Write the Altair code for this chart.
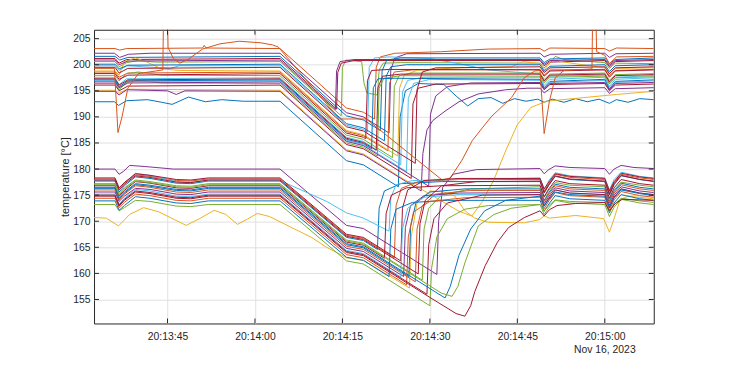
import altair as alt
import pandas as pd

BLUE = "#0072BD"; ORANGE = "#D95319"; YELLOW = "#EDB120"; PURPLE = "#7E2F8E"
GREEN = "#77AC30"; LBLUE = "#4DBEEE"; RED = "#A2142F"

# time in seconds after 20:13:00, temperature in degC
u01 = [(32.4,203.1),(36.0,203.1),(36.8,202.8),(38.0,203.1),(51.0,203.2),(51.3,203.7),(51.6,203.2),(64.3,203.1),(75.7,191.7),(78.6,190.9),(80.5,189.6),(80.8,199.5),(81.5,201.5),(84.0,202.2),(92.0,202.5),(100.0,203.0),(108.9,203.1),(109.6,202.6),(110.6,203.2),(120.0,203.1),(120.8,202.6),(122.0,203.2),(128.4,203.1)]
u02 = [(32.4,202.2),(35.9,202.2),(36.8,201.4),(38.3,202.0),(42.0,202.2),(64.3,202.2),(75.7,190.8),(78.6,190.0),(83.0,186.9),(83.3,199.0),(84.0,201.3),(86.0,202.1),(108.9,202.2),(109.6,201.5),(110.7,202.0),(120.0,202.2),(120.8,201.4),(121.9,202.1),(128.4,202.2)]
u03 = [(32.4,201.6),(36.0,201.6),(36.8,200.9),(38.2,201.4),(64.3,201.6),(75.7,190.2),(78.6,189.4),(81.5,187.4),(81.8,198.8),(82.6,200.9),(85.0,201.3),(108.9,201.3),(109.6,200.4),(110.6,201.1),(120.0,201.3),(120.8,200.2),(121.8,201.0),(128.4,201.3)]
u04 = [(32.4,201.2),(36.0,201.2),(36.7,200.3),(38.0,201.0),(64.3,201.2),(74.0,191.5),(74.2,198.5),(74.8,200.3),(77.0,200.8),(108.9,200.8),(109.6,199.8),(110.5,200.5),(120.0,200.8),(120.8,199.6),(121.8,200.6),(128.4,200.8)]
u05 = [(32.4,200.6),(36.0,200.6),(36.7,199.6),(38.0,200.4),(40.0,200.8),(43.0,200.5),(64.3,200.6),(74.8,190.2),(75.0,199.5),(75.6,200.9),(78.3,200.6),(78.7,196.5),(79.2,194.6),(81.0,194.2),(81.3,199.0),(82.0,200.3),(85.0,200.4),(108.9,200.3),(109.6,199.4),(110.5,200.2),(111.5,201.6),(113.0,201.0),(120.0,200.4),(120.8,199.3),(121.8,200.3),(128.4,200.2)]
u06 = [(32.4,200.1),(36.0,200.1),(36.7,199.2),(38.2,199.9),(64.3,200.1),(75.7,188.7),(78.6,187.9),(82.2,185.4),(82.5,197.8),(83.3,199.6),(86.0,200.0),(108.9,200.0),(109.6,198.8),(110.6,199.7),(120.0,200.0),(120.8,198.7),(121.8,199.8),(128.4,200.0)]
u07 = [(32.4,199.8),(36.0,199.8),(36.7,198.9),(38.0,199.8),(45.5,199.3),(47.0,199.8),(64.3,199.8),(75.7,188.4),(78.6,187.6),(79.3,187.1),(79.6,199.5),(80.5,201.3),(83.0,201.5),(90.0,201.2),(95.0,200.2),(100.0,199.0),(108.9,198.2),(109.6,196.8),(110.6,197.8),(120.0,198.0),(120.8,196.5),(121.8,197.6),(128.4,197.9)]
u08 = [(32.4,199.3),(35.9,199.3),(36.5,187.0),(37.2,190.0),(38.2,195.5),(40.0,198.3),(44.2,199.0),(44.3,208.0),(45.0,208.0),(45.1,203.3),(46.0,201.2),(47.1,200.3),(48.5,201.0),(51.0,203.0),(54.0,204.0),(57.3,204.5),(61.0,204.2),(63.0,203.8),(64.0,203.4),(74.5,189.6),(79.1,189.6),(92.1,177.9),(93.5,178.3),(95.5,181.7),(97.3,185.5),(100.5,190.0),(104.0,193.7),(106.2,197.5),(108.0,198.8),(108.9,198.9),(109.6,186.8),(110.5,193.0),(111.5,197.5),(113.0,198.9),(117.8,199.2),(117.9,208.0),(118.5,208.0),(118.6,202.5),(120.0,201.8),(120.8,200.2),(122.0,201.5),(128.4,201.6)]
u09 = [(32.4,198.8),(36.0,198.8),(36.7,198.0),(37.6,200.6),(39.5,201.3),(41.5,200.5),(44.0,199.2),(47.0,198.9),(64.3,198.8),(75.7,187.4),(78.6,186.6),(84.5,182.5),(84.8,195.5),(85.6,198.0),(88.0,199.0),(95.0,199.4),(104.0,199.6),(106.0,200.6),(108.9,200.2),(109.6,199.0),(111.0,201.0),(113.0,200.5),(120.0,199.4),(120.8,198.2),(121.8,199.3),(128.4,199.4)]
u10 = [(32.4,198.3),(36.0,198.3),(36.7,197.2),(38.2,198.0),(64.3,198.3),(75.7,186.9),(78.6,186.1),(79.0,185.8),(79.3,197.0),(80.0,198.9),(83.0,199.1),(108.9,199.0),(109.6,197.8),(110.6,198.8),(120.0,199.0),(120.8,197.6),(121.8,198.8),(128.4,199.0)]
u11 = [(32.4,197.9),(36.0,197.9),(36.7,196.9),(38.0,198.3),(40.0,198.6),(44.0,198.0),(64.3,197.9),(75.7,186.5),(78.6,185.7),(83.6,182.2),(83.9,195.8),(84.7,197.9),(87.0,198.4),(108.9,198.4),(109.6,197.2),(110.6,198.2),(120.0,198.4),(120.8,197.0),(121.8,198.1),(128.4,198.3)]
u12 = [(32.4,197.5),(36.0,197.5),(36.7,196.2),(38.0,197.3),(64.3,197.5),(75.7,186.1),(78.6,185.3),(85.0,180.8),(85.3,194.8),(86.2,197.0),(89.0,197.6),(108.9,197.6),(109.6,196.0),(110.6,197.2),(120.0,197.6),(120.8,195.8),(121.8,197.2),(128.4,197.5)]
u13 = [(32.4,197.1),(36.0,197.1),(36.7,195.8),(38.2,196.9),(64.3,197.1),(75.7,185.7),(78.6,184.9),(80.0,183.9),(80.3,195.6),(81.1,197.3),(84.0,197.4),(108.9,197.2),(109.6,195.6),(110.6,196.8),(120.0,197.2),(120.8,195.4),(121.8,196.8),(128.4,197.1)]
u14 = [(32.4,196.1),(36.0,196.1),(36.7,195.0),(38.2,195.9),(64.3,196.1),(75.7,184.7),(78.6,183.9),(86.8,178.2),(87.1,192.5),(88.0,195.5),(91.0,196.3),(108.9,196.4),(109.6,195.2),(110.6,196.2),(120.0,196.4),(120.8,195.0),(121.8,196.1),(128.4,196.3)]
u15 = [(32.4,194.9),(36.0,194.9),(36.7,194.2),(38.0,195.2),(45.0,195.0),(46.5,194.3),(48.0,195.0),(64.3,194.9),(75.7,183.5),(78.6,182.7),(88.5,175.8),(88.8,183.0),(89.5,187.5),(90.5,189.3),(92.6,191.1),(95.0,192.9),(98.3,194.4),(103.0,195.2),(106.8,195.5),(108.9,195.5),(109.6,194.6),(110.6,195.4),(120.0,195.6),(120.8,194.5),(121.8,195.4),(128.4,195.6)]
u16 = [(32.4,192.9),(35.9,192.9),(36.6,192.2),(38.0,193.1),(41.6,193.3),(44.0,192.8),(45.8,192.4),(48.6,193.8),(51.5,192.9),(54.3,193.3),(58.0,193.0),(64.3,193.0),(75.7,181.6),(78.6,180.8),(84.6,176.6),(84.9,190.0),(85.8,195.0),(88.0,196.4),(92.4,196.2),(94.5,194.0),(96.5,192.1),(98.3,193.5),(100.5,193.7),(102.5,192.6),(104.5,193.5),(106.5,193.0),(108.5,193.4),(109.6,192.8),(111.0,193.4),(113.0,192.8),(115.0,193.5),(117.0,192.9),(119.0,193.4),(120.8,192.6),(122.0,193.3),(124.0,192.8),(126.0,193.5),(128.4,193.3)]
u17 = [(32.4,195.1),(36.0,195.1),(36.7,194.5),(38.0,195.3),(64.3,195.1),(75.7,183.7),(78.6,182.9),(85.0,178.4),(90.0,175.2),(95.0,171.9),(97.2,171.0),(98.9,173.6),(101.0,178.0),(103.0,183.5),(105.0,188.5),(107.3,191.8),(110.0,193.0),(116.4,193.7),(122.0,194.3),(128.4,194.9)]
u18 = [(32.4,199.5),(36.0,199.5),(36.7,198.4),(38.2,199.3),(64.3,199.5),(75.7,188.1),(78.6,187.3),(87.5,181.1),(87.8,195.2),(88.7,198.6),(91.0,199.4),(108.9,199.6),(109.6,198.5),(110.6,199.4),(120.0,199.6),(120.8,198.3),(121.8,199.4),(128.4,199.6)]
u19 = [(32.4,196.7),(36.0,196.7),(36.7,195.6),(38.2,196.5),(64.3,196.7),(75.7,185.3),(78.6,184.5),(89.8,176.7),(90.1,190.5),(91.0,194.0),(93.0,195.8),(97.0,196.5),(108.9,196.6),(109.6,195.3),(110.6,196.4),(120.0,196.6),(120.8,195.2),(121.8,196.4),(128.4,196.6)]
u20 = [(32.4,196.4),(36.0,196.4),(36.7,195.2),(38.0,196.6),(40.0,197.0),(44.0,196.5),(64.3,196.4),(75.7,185.0),(78.6,184.2),(81.0,182.5),(81.3,195.5),(82.1,197.4),(85.0,197.9),(108.9,197.8),(109.6,196.5),(110.6,197.6),(120.0,197.8),(120.8,196.3),(121.8,197.5),(128.4,197.7)]
u21 = [(32.4,198.6),(36.0,198.6),(36.7,197.6),(38.2,198.4),(64.3,198.6),(75.7,187.2),(78.6,186.4),(82.8,183.5),(83.1,196.5),(83.9,198.6),(87.0,199.0),(108.9,199.1),(109.6,198.0),(110.6,199.0),(120.0,199.1),(120.8,197.9),(121.8,198.9),(128.4,199.1)]
u22 = [(32.4,196.9),(36.0,196.9),(36.7,195.5),(38.0,196.8),(64.3,196.9),(75.7,185.5),(78.6,184.7),(86.0,179.5),(86.3,193.5),(87.2,196.4),(90.0,197.2),(108.9,197.0),(109.6,195.4),(110.6,196.6),(120.0,197.0),(120.8,195.2),(121.8,196.6),(128.4,196.9)]
u23 = [(32.4,197.3),(36.0,197.3),(36.7,196.1),(38.2,197.1),(64.3,197.3),(75.7,185.9),(78.6,185.1),(80.8,183.6),(81.1,195.6),(81.9,197.8),(85.0,198.2),(108.9,198.2),(109.6,196.9),(110.6,198.0),(120.0,198.2),(120.8,196.7),(121.8,197.9),(128.4,198.1)]
u24 = [(32.4,200.9),(36.0,200.9),(36.7,200.0),(38.2,200.7),(64.3,200.9),(73.8,191.4),(74.0,198.8),(74.6,200.6),(77.0,201.0),(108.9,201.0),(109.6,200.1),(110.6,200.8),(120.0,201.0),(120.8,199.9),(121.8,200.8),(128.4,201.0)]

d01 = [(32.4,180.0),(36.0,180.0),(36.7,179.0),(37.5,179.6),(38.5,180.7),(41.0,180.5),(46.0,180.0),(64.3,180.0),(75.7,169.2),(78.6,168.6),(91.2,159.8),(91.5,170.0),(92.2,176.5),(94.0,179.0),(98.0,179.9),(108.9,180.1),(109.6,179.1),(110.4,179.9),(111.5,180.6),(114.0,180.3),(120.0,180.1),(120.8,179.0),(121.6,180.0),(122.8,180.7),(125.0,180.3),(128.4,180.1)]
d02 = [(32.4,178.3),(36.0,178.3),(36.7,176.4),(37.6,177.4),(39.5,179.1),(42.0,178.8),(46.5,178.0),(49.0,177.9),(52.0,178.3),(64.3,178.3),(75.7,167.5),(78.6,166.9),(85.0,162.4),(85.3,172.5),(86.2,176.0),(89.0,177.8),(95.0,178.2),(108.9,178.2),(109.6,176.2),(110.4,177.5),(111.5,179.1),(114.0,178.6),(120.0,178.2),(120.8,175.8),(121.6,177.6),(122.8,179.2),(126.0,178.5),(128.4,178.2)]
d03 = [(32.4,178.1),(36.0,178.1),(36.7,176.3),(37.6,177.4),(39.5,178.9),(42.0,178.6),(46.5,177.8),(49.0,177.7),(52.0,178.1),(64.3,178.1),(75.7,167.3),(78.6,166.7),(83.9,163.0),(84.2,173.0),(85.1,176.3),(88.0,177.6),(95.0,178.0),(108.9,178.0),(109.6,175.8),(110.4,177.2),(111.5,179.0),(114.0,178.4),(120.0,178.0),(120.8,175.5),(121.6,177.4),(122.8,179.0),(126.0,178.3),(128.4,178.0)]
d04 = [(32.4,177.8),(36.0,177.8),(36.7,176.0),(37.6,177.2),(39.5,179.2),(42.0,178.8),(46.5,177.6),(49.0,177.5),(52.0,177.8),(64.3,177.8),(72.3,173.8),(75.7,171.6),(78.6,170.6),(83.0,168.1),(83.3,174.5),(84.2,177.0),(87.0,177.8),(95.0,178.0),(108.9,178.3),(109.6,176.0),(110.4,177.8),(111.5,179.3),(114.0,178.7),(120.0,178.3),(120.8,176.0),(121.6,178.0),(122.8,179.4),(126.0,178.6),(128.4,178.3)]
d05 = [(32.4,177.7),(36.0,177.7),(36.7,175.6),(37.6,176.8),(39.5,178.5),(42.0,178.2),(46.5,177.3),(49.0,177.2),(52.0,177.7),(64.3,177.7),(75.7,166.9),(78.6,166.3),(81.0,164.6),(81.3,172.5),(82.2,175.8),(85.0,177.2),(92.0,177.6),(108.9,177.6),(109.6,175.4),(110.4,176.9),(111.5,178.6),(114.0,178.0),(120.0,177.6),(120.8,175.0),(121.6,177.0),(122.8,178.7),(126.0,178.0),(128.4,177.6)]
d06 = [(32.4,177.2),(36.0,177.2),(36.7,175.3),(37.6,176.4),(39.5,177.9),(42.0,177.6),(46.5,176.8),(49.0,176.7),(52.0,177.2),(64.3,177.2),(75.7,166.4),(78.6,165.8),(88.7,158.7),(89.0,168.5),(89.8,172.5),(92.0,175.0),(97.0,176.2),(108.9,176.6),(109.6,174.6),(110.4,175.9),(111.5,177.4),(114.0,176.9),(120.0,176.6),(120.8,174.2),(121.6,176.0),(122.8,177.5),(126.0,176.9),(128.4,176.6)]
d07 = [(32.4,176.8),(36.0,176.8),(36.7,174.8),(37.6,175.9),(39.5,177.6),(42.0,177.3),(46.5,176.4),(49.0,176.3),(52.0,176.8),(64.3,176.8),(75.7,166.0),(78.6,165.4),(82.2,162.9),(82.5,171.5),(83.4,175.0),(86.0,176.4),(92.0,176.8),(108.9,176.9),(109.6,174.7),(110.4,176.2),(111.5,177.8),(114.0,177.2),(120.0,176.9),(120.8,174.4),(121.6,176.4),(122.8,178.0),(126.0,177.2),(128.4,176.9)]
d08 = [(32.4,176.3),(36.0,176.3),(36.7,174.2),(37.6,175.4),(39.5,177.0),(42.0,176.7),(46.5,175.9),(49.0,175.8),(52.0,176.3),(64.3,176.3),(75.7,165.5),(78.6,164.9),(86.4,159.4),(86.7,169.0),(87.6,173.5),(90.0,175.6),(96.0,176.2),(108.9,176.2),(109.6,174.0),(110.4,175.5),(111.5,177.1),(114.0,176.5),(120.0,176.2),(120.8,173.8),(121.6,175.7),(122.8,177.3),(126.0,176.5),(128.4,176.2)]
d09 = [(32.4,176.0),(36.0,176.0),(36.7,174.1),(37.6,175.2),(39.5,176.8),(42.0,176.5),(46.5,175.6),(49.0,175.5),(52.0,176.0),(64.3,176.0),(75.7,165.2),(78.6,164.6),(87.5,158.4),(87.8,168.5),(88.7,173.0),(91.0,175.2),(97.0,175.9),(108.9,175.9),(109.6,173.8),(110.4,175.2),(111.5,176.8),(114.0,176.2),(120.0,175.9),(120.8,173.5),(121.6,175.4),(122.8,177.0),(126.0,176.2),(128.4,175.9)]
d10 = [(32.4,175.6),(36.0,175.6),(36.7,173.8),(37.6,174.8),(39.5,176.3),(42.0,176.1),(46.5,175.2),(49.0,175.1),(52.0,175.6),(64.3,175.6),(75.7,164.8),(78.6,164.2),(85.5,159.4),(85.8,168.8),(86.7,173.0),(89.0,174.9),(95.0,175.4),(108.9,175.5),(109.6,173.4),(110.4,174.8),(111.5,176.4),(114.0,175.8),(120.0,175.5),(120.8,173.1),(121.6,175.0),(122.8,176.6),(126.0,175.8),(128.4,175.5)]
d11 = [(32.4,175.2),(36.0,175.2),(36.7,173.2),(37.6,174.4),(39.5,176.1),(42.0,175.8),(46.5,174.8),(49.0,174.7),(52.0,175.2),(64.3,175.2),(75.7,164.4),(78.6,163.8),(85.0,159.3),(85.3,168.5),(86.2,172.5),(89.0,174.6),(95.0,175.1),(108.9,175.1),(109.6,172.9),(110.4,174.4),(111.5,176.0),(114.0,175.4),(120.0,175.1),(120.8,172.6),(121.6,174.6),(122.8,176.2),(126.0,175.4),(128.4,175.1)]
d12 = [(32.4,174.8),(36.0,174.8),(36.7,172.9),(37.6,174.0),(39.5,175.6),(42.0,175.3),(46.5,174.4),(49.0,174.3),(52.0,174.8),(64.3,174.8),(75.7,164.0),(78.6,163.4),(90.0,155.4),(94.5,152.3),(96.0,151.8),(97.0,153.8),(97.7,156.5),(99.5,161.5),(101.6,166.0),(103.5,168.8),(106.2,170.7),(108.9,172.0),(109.6,171.0),(110.5,172.2),(111.8,173.0),(115.0,173.4),(120.0,173.6),(120.8,172.0),(121.8,173.4),(123.0,174.2),(128.4,174.0)]
d13 = [(32.4,177.0),(36.0,177.0),(36.7,175.0),(37.6,176.2),(39.5,177.7),(42.0,177.4),(46.5,176.6),(49.0,176.5),(52.0,177.0),(64.3,177.0),(75.7,166.2),(78.6,165.6),(92.0,156.2),(93.8,155.6),(94.8,157.5),(96.0,162.0),(98.3,169.1),(101.0,171.3),(104.0,172.5),(108.9,173.2),(109.6,172.0),(110.4,173.0),(111.5,174.1),(114.0,173.8),(120.0,173.6),(120.8,171.8),(121.6,173.2),(122.8,174.4),(126.0,173.9),(128.4,173.6)]
d14 = [(32.4,176.5),(36.0,176.5),(36.7,174.5),(37.6,175.6),(39.5,177.2),(42.0,176.9),(46.5,176.1),(49.0,176.0),(52.0,176.5),(64.3,176.5),(75.7,165.7),(78.6,165.1),(91.0,156.4),(92.6,155.3),(93.5,157.5),(95.0,163.5),(97.0,168.5),(99.4,172.0),(103.0,174.0),(108.9,174.8),(109.6,173.0),(110.4,174.2),(111.5,175.6),(114.0,175.1),(120.0,174.8),(120.8,172.8),(121.6,174.5),(122.8,176.0),(126.0,175.3),(128.4,174.9)]
d15 = [(32.4,173.2),(36.0,173.2),(36.7,172.0),(37.6,172.6),(39.5,174.0),(42.0,173.8),(46.5,172.9),(49.0,172.8),(52.0,173.2),(64.3,173.2),(75.7,162.4),(78.6,161.8),(90.0,153.8),(90.3,161.0),(91.2,167.0),(93.0,170.5),(96.0,172.3),(100.0,173.0),(108.9,173.2),(109.6,171.3),(110.4,172.6),(111.5,174.0),(114.0,173.5),(120.0,173.2),(120.8,170.9),(121.6,172.7),(122.8,174.2),(126.0,173.5),(128.4,173.2)]
d16 = [(32.4,173.9),(36.0,173.9),(36.7,172.1),(37.6,173.0),(39.5,174.7),(42.0,174.4),(46.5,173.5),(49.0,173.4),(52.0,173.9),(64.3,173.9),(75.7,163.1),(78.6,162.5),(83.0,159.4),(83.3,168.5),(84.2,172.3),(87.0,173.6),(93.0,174.0),(108.9,174.0),(109.6,171.9),(110.4,173.3),(111.5,174.9),(114.0,174.3),(120.0,174.0),(120.8,171.6),(121.6,173.5),(122.8,175.1),(126.0,174.3),(128.4,174.0)]
d17 = [(32.4,177.9),(36.0,177.9),(36.7,176.0),(37.6,177.1),(39.5,178.7),(42.0,178.4),(46.5,177.5),(49.0,177.4),(52.0,177.9),(64.3,177.9),(75.7,167.1),(78.6,166.5),(88.0,159.9),(88.3,169.5),(89.2,174.0),(92.0,176.8),(98.0,177.6),(108.9,177.7),(109.6,175.5),(110.4,177.0),(111.5,178.7),(114.0,178.1),(120.0,177.7),(120.8,175.2),(121.6,177.2),(122.8,178.8),(126.0,178.0),(128.4,177.7)]
d18 = [(32.4,174.4),(36.0,174.4),(36.7,172.6),(37.6,173.6),(39.5,175.2),(42.0,174.9),(46.5,174.0),(49.0,173.9),(52.0,174.4),(64.3,174.4),(75.7,163.6),(78.6,163.0),(86.0,157.8),(86.3,167.0),(87.2,171.8),(90.0,173.8),(96.0,174.5),(108.9,174.6),(109.6,172.4),(110.4,173.9),(111.5,175.5),(114.0,174.9),(120.0,174.6),(120.8,172.1),(121.6,174.1),(122.8,175.7),(126.0,174.9),(128.4,174.6)]
d19 = [(32.4,175.0),(36.0,175.0),(36.7,173.1),(37.6,174.2),(39.5,175.8),(42.0,175.5),(46.5,174.6),(49.0,174.5),(52.0,175.0),(64.3,175.0),(75.7,164.2),(78.6,163.6),(89.5,156.0),(89.8,165.5),(90.7,170.5),(93.0,173.5),(99.0,175.0),(108.9,175.1),(109.6,172.9),(110.4,174.4),(111.5,176.0),(114.0,175.4),(120.0,175.1),(120.8,172.6),(121.6,174.6),(122.8,176.2),(126.0,175.4),(128.4,175.1)]
y02 = [(32.4,170.7),(34.5,170.6),(36.6,169.1),(38.5,171.3),(40.9,172.6),(43.5,171.8),(48.2,169.2),(50.5,170.5),(53.0,172.1),(55.0,171.3),(57.0,169.4),(58.7,170.4),(60.4,171.5),(62.5,170.9),(64.1,170.0),(69.7,166.9),(72.3,165.0),(75.7,163.0),(78.6,162.5),(86.5,157.2),(86.8,167.0),(87.8,173.5),(90.0,175.8),(92.4,175.6),(94.3,174.8),(96.0,172.0),(97.7,170.6),(100.0,169.8),(106.2,169.7),(108.8,170.3),(109.6,171.0),(110.5,170.6),(115.0,171.1),(119.8,170.5),(120.8,167.9),(121.6,170.5),(122.6,174.1),(124.0,174.8),(128.4,174.3)]

series = [
    ("u16", BLUE, u16), ("u01", ORANGE, u01), ("u17", YELLOW, u17), ("u02", PURPLE, u02),
    ("u05", GREEN, u05), ("u07", LBLUE, u07), ("u04", RED, u04), ("u03", BLUE, u03),
    ("u21", ORANGE, u21), ("u09", YELLOW, u09), ("u24", PURPLE, u24), ("u11", GREEN, u11),
    ("u12", LBLUE, u12), ("u10", RED, u10), ("u06", BLUE, u06), ("u15", PURPLE, u15),
    ("u20", GREEN, u20), ("u22", LBLUE, u22), ("u14", RED, u14), ("u13", BLUE, u13),
    ("u19", PURPLE, u19), ("u18", RED, u18), ("u23", RED, u23), ("u08", ORANGE, u08),
    ("d05", BLUE, d05), ("d03", ORANGE, d03), ("y02", YELLOW, y02), ("d01", PURPLE, d01),
    ("d06", GREEN, d06), ("d04", LBLUE, d04), ("d02", RED, d02), ("d08", BLUE, d08),
    ("d09", ORANGE, d09), ("d10", PURPLE, d10), ("d15", GREEN, d15), ("d11", LBLUE, d11),
    ("d07", RED, d07), ("d16", BLUE, d16), ("d18", ORANGE, d18), ("d17", RED, d17),
    ("d19", RED, d19), ("d14", BLUE, d14), ("d13", GREEN, d13), ("d12", RED, d12),
]

x_ticks = [45, 60, 75, 90, 105, 120]
x_tick_labels = ["20:13:45", "20:14:00", "20:14:15", "20:14:30", "20:14:45", "20:15:00"]
y_ticks = [155, 160, 165, 170, 175, 180, 185, 190, 195, 200, 205]
date_label = "Nov 16, 2023"
x_domain = [32.4, 128.4]
y_domain = [150.4, 206.7]

W, H = 566, 297
FONT = "Liberation Sans"
INK = "#262626"

rows = []
for name, col, pts in series:
    for i, (tt, vv) in enumerate(pts):
        rows.append({"series": name, "idx": i, "time": tt, "temp": vv})
df = pd.DataFrame(rows)
names = [s[0] for s in series]
colors = [s[1] for s in series]

label_expr = "".join(f"datum.value == {v} ? '{l}' : " for v, l in zip(x_ticks, x_tick_labels)) + "''"

xs = alt.Scale(domain=x_domain, nice=False, zero=False)
ys = alt.Scale(domain=y_domain, nice=False, zero=False)

x_axis = alt.Axis(
    values=x_ticks, labelExpr=label_expr, grid=True, gridColor="#e0e0e0", gridWidth=1,
    domain=False, ticks=False, labelPadding=8, labelFontSize=10.5, labelColor=INK,
    labelFont=FONT, title=None)
y_axis = alt.Axis(
    values=y_ticks, grid=True, gridColor="#e0e0e0", gridWidth=1, domain=False, ticks=False,
    labelPadding=4, labelFontSize=10.5, labelColor=INK, labelFont=FONT,
    title="temperature [°C]", titleFont=FONT, titleFontSize=11, titleFontWeight="normal",
    titleColor=INK, titleX=-29, titleY=H / 2, titleAngle=270, titleAlign="center",
    titleBaseline="middle")

lines = alt.Chart(df).mark_line(strokeWidth=1, clip=True).encode(
    x=alt.X("time:Q", scale=xs, axis=x_axis),
    y=alt.Y("temp:Q", scale=ys, axis=y_axis),
    color=alt.Color("series:N", scale=alt.Scale(domain=names, range=colors), legend=None),
    detail="series:N",
    order="idx:Q",
)

xt = pd.DataFrame({"time": x_ticks})
yt = pd.DataFrame({"temp": y_ticks})
tick_mark = dict(color=INK, strokeWidth=1)
bottom_ticks = alt.Chart(xt).mark_rule(**tick_mark).encode(
    x=alt.X("time:Q", scale=xs, axis=x_axis), y=alt.value(H), y2=alt.value(H - 5))
top_ticks = alt.Chart(xt).mark_rule(**tick_mark).encode(
    x=alt.X("time:Q", scale=xs, axis=x_axis), y=alt.value(0), y2=alt.value(5))
left_ticks = alt.Chart(yt).mark_rule(**tick_mark).encode(
    y=alt.Y("temp:Q", scale=ys, axis=y_axis), x=alt.value(0), x2=alt.value(5))
right_ticks = alt.Chart(yt).mark_rule(**tick_mark).encode(
    y=alt.Y("temp:Q", scale=ys, axis=y_axis), x=alt.value(W), x2=alt.value(W - 5))

date_text = alt.Chart(pd.DataFrame({"time": [x_ticks[-1]], "label": [date_label]})).mark_text(
    font=FONT, fontSize=10.5, color=INK, baseline="middle", align="center").encode(
    x=alt.X("time:Q", scale=xs, axis=x_axis), y=alt.value(H + 27), text="label:N")

chart = alt.layer(lines, bottom_ticks, top_ticks, left_ticks, right_ticks, date_text).properties(
    width=W, height=H, autosize=alt.AutoSizeParams(type="none"),
    padding={"left": 87, "top": 20, "right": 69, "bottom": 42},
    background="white",
).configure_view(stroke=INK, strokeWidth=1)

chart.save("out.html", embed_options={"renderer": "svg", "actions": False})
